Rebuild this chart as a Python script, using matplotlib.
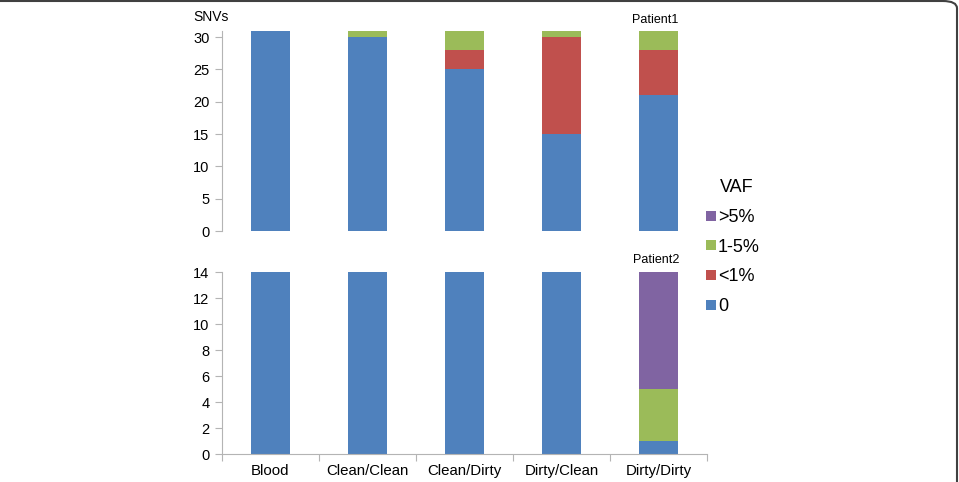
import numpy as np
import matplotlib.pyplot as plt
from matplotlib.lines import Line2D
from matplotlib.patches import FancyBboxPatch

plt.rcParams['font.family'] = ['Liberation Sans', 'DejaVu Sans']

# --- data ---
samples = ["Blood", "Clean/Clean", "Clean/Dirty", "Dirty/Clean", "Dirty/Dirty"]
vaf_classes = ["0", "<1%", "1-5%", ">5%"]
colors = ["#4F81BD", "#C0504D", "#9BBB59", "#8064A2"]

patient1 = {
    "0":    [31, 30, 25, 15, 21],
    "<1%":  [0, 0, 3, 15, 7],
    "1-5%": [0, 1, 3, 1, 3],
    ">5%":  [0, 0, 0, 0, 0],
}
patient2 = {
    "0":    [14, 14, 14, 14, 1],
    "<1%":  [0, 0, 0, 0, 0],
    "1-5%": [0, 0, 0, 0, 4],
    ">5%":  [0, 0, 0, 0, 9],
}

W, H = 959, 482
fig = plt.figure(figsize=(W / 100, H / 100), dpi=100)

left, right = 222 / W, 707 / W
ax1 = fig.add_axes([left, 1 - 231 / H, right - left, (231 - 30.6) / H])
ax2 = fig.add_axes([left, 1 - 454 / H, right - left, (454 - 272) / H])

x = np.arange(len(samples)) + 0.5
spine_col = "#b4b4b4"


def stack(ax, data, ymax, step):
    bottom = np.zeros(len(samples))
    for cls, col in zip(vaf_classes, colors):
        vals = np.array(data[cls], dtype=float)
        ax.bar(x, vals, width=0.4, bottom=bottom, color=col, linewidth=0)
        bottom += vals
    ax.set_xlim(0, len(samples))
    ax.set_ylim(0, ymax)
    ax.set_yticks(np.arange(0, ymax + 0.1, step))
    for s in ["top", "right"]:
        ax.spines[s].set_visible(False)
    ax.spines["left"].set_color(spine_col)
    ax.spines["bottom"].set_color(spine_col)
    ax.tick_params(axis="y", direction="out", length=5, color=spine_col,
                   labelsize=10.5, pad=4)


stack(ax1, patient1, 31, 5)
stack(ax2, patient2, 14, 2)

# top panel: no x axis
ax1.spines["bottom"].set_visible(False)
ax1.set_xticks([])

# bottom panel: boundary ticks + centered labels
ax2.set_xticks(np.arange(len(samples) + 1))
ax2.set_xticklabels([])
ax2.set_xticks(x, minor=True)
ax2.set_xticklabels(samples, minor=True, fontsize=10.8)
ax2.tick_params(axis="x", which="major", direction="out", length=5, color=spine_col)
ax2.tick_params(axis="x", which="minor", length=0, pad=7)

fig.text(193 / W, 1 - 17 / H, "SNVs", fontsize=10, va="center", ha="left")
fig.text(655 / W, 1 - 20 / H, "Patient1", fontsize=9, ha="center", va="center")
fig.text(656 / W, 1 - 260 / H, "Patient2", fontsize=9, ha="center", va="center")

# legend (title drawn separately so it sits centred like the original)
fig.text(737 / W, 1 - 187 / H, "VAF", fontsize=13, ha="center", va="center")
handles = [Line2D([], [], marker="s", linestyle="none", markersize=6.5,
                  markerfacecolor=c, markeredgewidth=0)
           for c in colors[::-1]]
leg = fig.legend(handles, vaf_classes[::-1], loc="upper left",
                 bbox_to_anchor=(697 / W, 1 - 200 / H), frameon=False,
                 fontsize=13, handlelength=0.5,
                 handletextpad=0.15, labelspacing=0.7, borderpad=0)

# rounded border, top-right corner
fig.patches.append(FancyBboxPatch((-30 / W, -30 / H), (957 + 30) / W, (481 + 30) / H,
                                  boxstyle="round,pad=0,rounding_size=0.015",
                                  transform=fig.transFigure, fill=False,
                                  edgecolor="#404040", linewidth=1.5))

plt.savefig("out.png", dpi=100)
plt.close()
